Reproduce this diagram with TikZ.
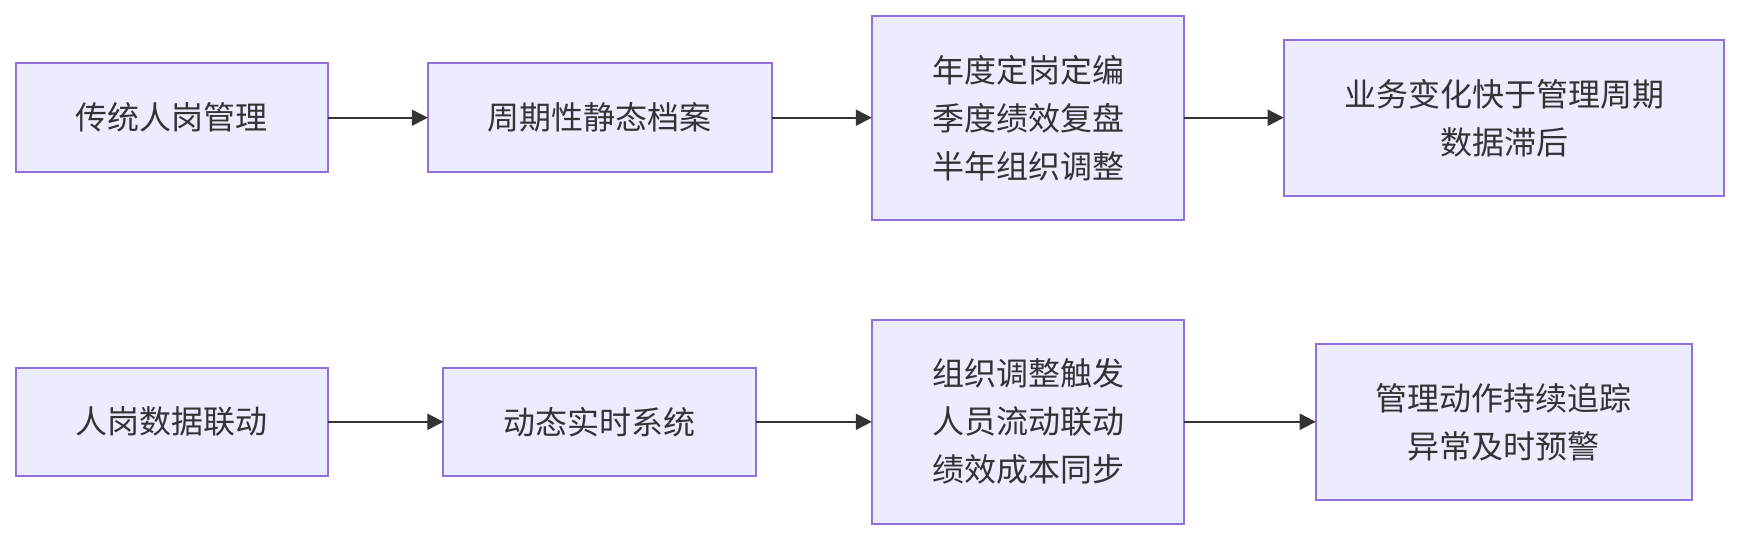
\documentclass[tikz,border=0pt]{standalone}
\usepackage{fontspec}
\newfontfamily\cjk{Noto Sans CJK SC}
\usetikzlibrary{arrows.meta}
\definecolor{boxfill}{HTML}{ECECFF}
\definecolor{boxline}{HTML}{9370DB}
\definecolor{ink}{HTML}{333333}
\tikzset{
  box/.style={draw=boxline, fill=boxfill, line width=1pt, rectangle, outer sep=0pt, inner sep=0pt,
    align=center, text=ink, font=\cjk\fontsize{16}{24}\selectfont},
  arr/.style={draw=ink, line width=1pt, -{Triangle[length=8pt,width=8pt]}}
}
\begin{document}
\begin{tikzpicture}[x=0.5pt,y=-0.5pt]
\useasboundingbox (0,0) rectangle (1740,540);
% top row
\node[box, minimum width=156.25pt, minimum height=54.3pt] (A) at (171.75,117.7) {传统人岗管理};
\node[box, minimum width=172.1pt, minimum height=54.3pt] (B) at (599.9,117.7) {周期性静态档案};
\node[box, minimum width=156.3pt, minimum height=102.15pt] (C) at (1028.1,117.8) {年度定岗定编\\季度绩效复盘\\半年组织调整};
\node[box, minimum width=220.3pt, minimum height=78.15pt] (D) at (1504,117.9) {业务变化快于管理周期\\数据滞后};
% bottom row
\node[box, minimum width=156.25pt, minimum height=54.3pt] (E) at (171.75,421.8) {人岗数据联动};
\node[box, minimum width=156.2pt, minimum height=54.3pt] (F) at (599.6,421.8) {动态实时系统};
\node[box, minimum width=156.3pt, minimum height=102.15pt] (G) at (1028.1,421.8) {组织调整触发\\人员流动联动\\绩效成本同步};
\node[box, minimum width=188pt, minimum height=78.15pt] (H) at (1503.7,422.1) {管理动作持续追踪\\异常及时预警};
% connectors
\draw[arr] (A.east) -- (B.west);
\draw[arr] (B.east) -- (C.west |- B.east);
\draw[arr] (C.east |- B.east) -- (D.west |- B.east);
\draw[arr] (E.east) -- (F.west);
\draw[arr] (F.east) -- (G.west |- F.east);
\draw[arr] (G.east |- F.east) -- (H.west |- F.east);
\end{tikzpicture}
\end{document}
